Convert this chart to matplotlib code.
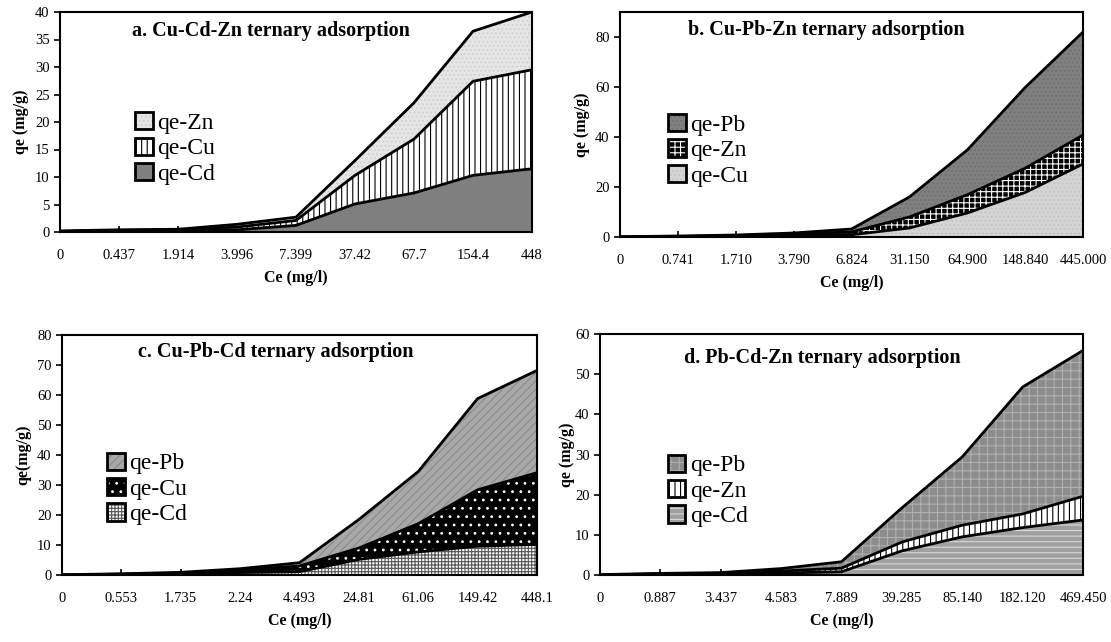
import matplotlib
matplotlib.use("Agg")
import matplotlib.pyplot as plt
from matplotlib.patches import Patch
from matplotlib.legend_handler import HandlerTuple
import numpy as np

plt.rcParams['font.family'] = ['Liberation Serif', 'DejaVu Serif']
plt.rcParams['hatch.linewidth'] = 0.8

# ---- data ----
ce_a = ['0', '0.437', '1.914', '3.996', '7.399', '37.42', '67.7', '154.4', '448']
cd_a = [0.1, 0.2, 0.3, 0.4, 1.2, 5.1, 7.1, 10.3, 11.5]
cu_a = [0.0, 0.1, 0.1, 0.5, 0.9, 5.2, 9.8, 17.1, 18.0]
zn_a = [0.1, 0.1, 0.1, 0.5, 0.6, 2.7, 6.6, 9.1, 10.5]

ce_b = ['0', '0.741', '1.710', '3.790', '6.824', '31.150', '64.900', '148.840', '445.000']
cu_b = [0.0, 0.1, 0.3, 0.6, 0.9, 3.6, 9.6, 17.8, 29.2]
zn_b = [0.0, 0.1, 0.3, 0.6, 1.1, 4.4, 7.3, 9.7, 11.6]
pb_b = [0.1, 0.2, 0.2, 0.4, 1.2, 8.0, 17.9, 32.3, 41.2]

ce_c = ['0', '0.553', '1.735', '2.24', '4.493', '24.81', '61.06', '149.42', '448.1']
cd_c = [0.0, 0.2, 0.3, 0.8, 1.1, 5.2, 7.7, 9.6, 10.2]
cu_c = [0.0, 0.1, 0.3, 0.8, 1.9, 3.8, 9.4, 18.8, 23.9]
pb_c = [0.1, 0.1, 0.3, 0.5, 1.1, 9.5, 17.4, 30.4, 34.1]

ce_d = ['0', '0.887', '3.437', '4.583', '7.889', '39.285', '85.140', '182.120', '469.450']
cd_d = [0.0, 0.2, 0.2, 0.5, 0.8, 6.0, 9.5, 11.8, 13.7]
zn_d = [0.0, 0.1, 0.2, 0.5, 0.9, 2.2, 2.9, 3.4, 5.9]
pb_d = [0.1, 0.1, 0.2, 0.6, 1.6, 8.5, 17.0, 31.6, 36.3]

# layers bottom -> top: (label, values, facecolor, hatch, hatchcolor)
panels = [
    dict(pos=[60, 12, 532, 232], ce=ce_a, ymax=40, ystep=5, ylabel='qe (mg/g)', ypad=4,
         title='a. Cu-Cd-Zn ternary adsorption', tx=0.447, ty=0.915, leg=(0.159, 0.545),
         layers=[('qe-Cd', cd_a, '#7f7f7f', None, '#7f7f7f'),
                 ('qe-Cu', cu_a, 'white', '|||', 'black'),
                 ('qe-Zn', zn_a, '#e6e6e6', '....', '#d0d0d0')]),
    dict(pos=[620, 12, 1083, 237], ce=ce_b, ymax=90, ystep=20, ylabel='qe (mg/g)', ypad=4,
         title='b. Cu-Pb-Zn ternary adsorption', tx=0.445, ty=0.92, leg=(0.104, 0.547),
         layers=[('qe-Cu', cu_b, '#d4d4d4', '....', '#c4c4c4'),
                 ('qe-Zn', zn_b, 'black', '+++', 'white'),
                 ('qe-Pb', pb_b, '#808080', '....', '#707070')]),
    dict(pos=[62, 335, 537, 575], ce=ce_c, ymax=80, ystep=10, ylabel='qe(mg/g)', ypad=4,
         title='c. Cu-Pb-Cd ternary adsorption', tx=0.45, ty=0.93, leg=(0.095, 0.51),
         layers=[('qe-Cd', cd_c, 'white', '+++++', '#555555'),
                 ('qe-Cu', cu_c, 'black', '..', 'white'),
                 ('qe-Pb', pb_c, '#a8a8a8', '////', '#8a8a8a')]),
    dict(pos=[600, 334, 1083, 575], ce=ce_d, ymax=60, ystep=10, ylabel='qe (mg/g)', ypad=0,
         title='d. Pb-Cd-Zn ternary adsorption', tx=0.46, ty=0.90, leg=(0.14, 0.50),
         layers=[('qe-Cd', cd_d, '#a0a0a0', '---', '#d8d8d8'),
                 ('qe-Zn', zn_d, 'white', '|||', 'black'),
                 ('qe-Pb', pb_d, '#8c8c8c', '++', '#b0b0b0')]),
]

W, H = 1111, 642
fig = plt.figure(figsize=(W / 100, H / 100), dpi=100)

for p in panels:
    l, t, r, b = p['pos']
    ax = fig.add_axes([l / W, (H - b) / H, (r - l) / W, (b - t) / H])
    x = np.arange(len(p['ce']))
    base = np.zeros(len(x))
    handles = []
    for name, vals, fc, hatch, hc in p['layers']:
        top = base + np.array(vals)
        ax.fill_between(x, base, top, facecolor=fc, hatch=hatch, edgecolor=hc,
                        linewidth=0, zorder=2)
        ax.plot(x, top, color='black', lw=2, zorder=3)
        handles.append((Patch(facecolor=fc, hatch=hatch, edgecolor=hc, linewidth=0),
                        Patch(facecolor='none', edgecolor='black', linewidth=2)))
        base = top
    labels = [layer[0] for layer in p['layers']]
    ax.legend(handles[::-1], labels[::-1], handler_map={tuple: HandlerTuple(ndivide=1)},
              loc='upper left', bbox_to_anchor=p['leg'], frameon=False, fontsize=17,
              handlelength=0.75, handleheight=0.75, handletextpad=0.2,
              labelspacing=0.15, borderpad=0, borderaxespad=0)

    ax.set_xlim(0, len(x) - 1)
    ax.set_ylim(0, p['ymax'])
    ax.set_xticks(x)
    ax.set_xticklabels(p['ce'])
    ax.set_yticks(np.arange(0, p['ymax'] + 0.1, p['ystep']))
    ax.tick_params(axis='x', direction='in', length=4, width=1.2, pad=12, labelsize=10.5)
    ax.tick_params(axis='y', direction='out', length=4, width=1.2, labelsize=10.5)
    for s in ax.spines.values():
        s.set_linewidth(1.5)
    ax.set_xlabel('Ce (mg/l)', fontweight='bold', fontsize=11.5, labelpad=6)
    ax.set_ylabel(p['ylabel'], fontweight='bold', fontsize=11.5, labelpad=p['ypad'])
    ax.text(p['tx'], p['ty'], p['title'], transform=ax.transAxes, ha='center', va='center',
            fontweight='bold', fontsize=14.5)

fig.savefig('out.png', dpi=100)
